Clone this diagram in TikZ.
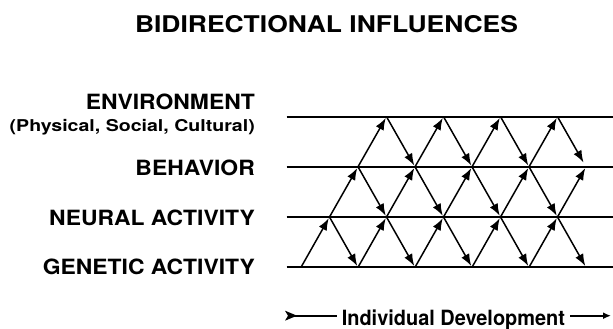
\documentclass[tikz,border=0pt]{standalone}
\usepackage{fontspec}
\usepackage{graphicx}
\setmainfont{TeX Gyre Heros}
\usetikzlibrary{arrows.meta}
\newcommand{\wideby}[2]{\scalebox{#1}[1]{#2}}
\begin{document}
\begin{tikzpicture}[x=1pt,y=-1pt,
  hline/.style={line width=1.8pt},
  infl/.style={line width=1.5pt,-{Latex[length=12pt,width=9pt]},shorten >=1.5pt},
  lab/.style={anchor=base east,inner sep=0pt,font=\fontsize{21}{21}\selectfont\bfseries},
  sublab/.style={anchor=base east,inner sep=0pt,font=\fontsize{16.3}{16.3}\selectfont\bfseries},
  titlefont/.style={anchor=base,inner sep=0pt,font=\fontsize{23}{23}\selectfont\bfseries},
  devfont/.style={anchor=base,inner sep=0pt,font=\fontsize{21}{21}\selectfont\bfseries},
  devline/.style={line width=1.6pt}]
\useasboundingbox (0,0) rectangle (613,329);

% title
\node[titlefont] (title) at (326.5,33) {\wideby{1.15}{BIDIRECTIONAL INFLUENCES}};

% labels
\node[lab] (env) at (255,109.7) {\wideby{1.09}{ENVIRONMENT}};
\node[sublab] (envsub) at (255,131) {\wideby{1.2}{(Physical, Social, Cultural)}};
\node[lab] (beh) at (255,175) {\wideby{1.09}{BEHAVIOR}};
\node[lab] (neu) at (255,225) {\wideby{1.09}{NEURAL ACTIVITY}};
\node[lab] (gen) at (255,274.3) {\wideby{1.09}{GENETIC ACTIVITY}};

% level lines
\coordinate (Es) at (286.7,116.7); \coordinate (Ee) at (613,116.7);
\coordinate (Bs) at (286.7,166.8); \coordinate (Be) at (613,166.8);
\coordinate (Ns) at (286.7,217);   \coordinate (Ne) at (613,217);
\coordinate (Gs) at (286.7,267.3); \coordinate (Ge) at (613,267.3);
\draw[hline] (Es) -- (Ee);
\draw[hline] (Bs) -- (Be);
\draw[hline] (Ns) -- (Ne);
\draw[hline] (Gs) -- (Ge);

% lattice points
\foreach \k in {0,...,5} {\coordinate (G\k) at ({301+57*\k},267.3);}
\foreach \k in {0,...,4} {\coordinate (N\k) at ({329.5+57*\k},217);}
\foreach \k in {1,...,5} {\coordinate (B\k) at ({301+57*\k},166.8);}
\foreach \k in {1,...,4} {\coordinate (E\k) at ({329.5+57*\k},116.7);}

% influences
\foreach \k in {0,...,4} {\draw[infl] (G\k) -- (N\k);}
\foreach \k [evaluate=\k as \n using int(\k+1)] in {0,...,4} {
  \draw[infl] (N\k) -- (G\n);
  \draw[infl] (N\k) -- (B\n);
}
\foreach \k [evaluate=\k as \n using int(\k+1)] in {1,...,4} {
  \draw[infl] (B\k) -- (N\k);
  \draw[infl] (B\k) -- (E\k);
}
\foreach \k [evaluate=\k as \n using int(\k+1)] in {1,...,3} {
  \draw[infl] (E\k) -- (B\n);
}
\draw[infl,shorten >=5pt] (E4) -- (B5);

% development axis
\node[devfont] (dev) at (453.4,325) {\wideby{0.95}{Individual Development}};
\coordinate (dL) at (285,315.7);
\coordinate (dR) at (611,315.7);
\fill (dL) ++(0,-5) -- ++(12,5) -- ++(-12,5) -- ++(3,-5) -- cycle;
\draw[devline] ([xshift=9pt]dL) -- ([xshift=-5pt]dev.west |- dL);
\draw[devline,-{Latex[length=8pt,width=7pt]}] ([xshift=5pt]dev.east |- dR) -- (dR);
\end{tikzpicture}
\end{document}
